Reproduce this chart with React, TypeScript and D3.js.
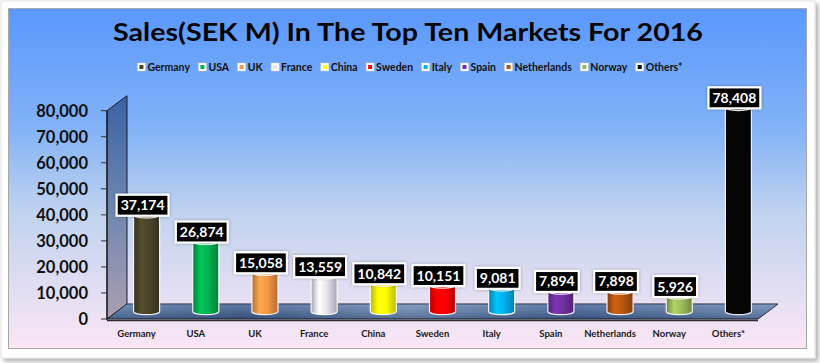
import React from "react";
import * as d3 from "d3";

const categories = ["Germany", "USA", "UK", "France", "China", "Sweden", "Italy", "Spain", "Netherlands", "Norway", "Others*"];
const values = [37174, 26874, 15058, 13559, 10842, 10151, 9081, 7894, 7898, 5926, 78408];
const colors = ["#4a4429", "#00b050", "#f79646", "#e8e4ee", "#ffff00", "#ff0000", "#00b0f0", "#7030a0", "#b8550f", "#9bbb59", "#050505"];
const yTicks = [0, 10000, 20000, 30000, 40000, 50000, 60000, 70000, 80000];
const title = "Sales(SEK M) In The Top Ten Markets For 2016";

const W = 820;
const H = 363;
const FONT = "Lato, 'Open Sans', sans-serif";

function textWidth(t: string, font: string): number {
  if (typeof document === "undefined") return t.length * 6;
  const c = document.createElement("canvas");
  const ctx = c.getContext("2d");
  if (!ctx) return t.length * 6;
  ctx.font = font;
  return ctx.measureText(t).width;
}

export default function App() {
  const x0 = 107, x1 = 758;
  const dx = 20, dy = -15;
  const x = d3.scaleBand<string>().domain(categories).range([x0, x1]).padding(0);
  const y = d3.scaleLinear().domain([0, 80000]).range([319, 110.7]);
  const fmt = d3.format(",");
  const bw = x.bandwidth();
  const r = bw * 0.22;
  const ry = 3.2;

  // legend layout
  const legFont = `bold 10.5px ${FONT}`;
  const widths = categories.map((c) => textWidth(c, legFont));
  const gap = 8.5;
  const itemW = widths.map((w) => 10 + w + gap);
  const total = d3.sum(itemW) - gap;
  let acc = 410 - total / 2;
  const legX = itemW.map((w) => {
    const v = acc;
    acc += w;
    return v;
  });

  const yTop = y(80000);
  const yBase = y(0);

  return (
    <div style={{ position: "absolute", left: 0, top: 0 }}>
      <svg width={W} height={H} style={{ display: "block" }}>
        <defs>
          <linearGradient id="bg" x1="0" y1="0" x2="0" y2="1">
            <stop offset="0" stopColor="#5a98fd" />
            <stop offset="0.35" stopColor="#82b2f7" />
            <stop offset="0.6" stopColor="#c0d3ef" />
            <stop offset="1" stopColor="#fbe6f5" />
          </linearGradient>
          <linearGradient id="wall" x1="0" y1="0" x2="0" y2="1">
            <stop offset="0" stopColor="#3a62a4" />
            <stop offset="0.5" stopColor="#6e86b0" />
            <stop offset="1" stopColor="#ab9fb2" />
          </linearGradient>
          <linearGradient id="floor" x1="0" y1="0" x2="1" y2="0">
            <stop offset="0" stopColor="#5a7bae" />
            <stop offset="0.2" stopColor="#3f5f92" />
            <stop offset="0.45" stopColor="#6f8cb8" />
            <stop offset="0.7" stopColor="#44659a" />
            <stop offset="1" stopColor="#6a88b6" />
          </linearGradient>
          <linearGradient id="floorV" x1="0" y1="0" x2="0" y2="1">
            <stop offset="0" stopColor="#ffffff" stopOpacity="0.15" />
            <stop offset="1" stopColor="#000000" stopOpacity="0.2" />
          </linearGradient>
          {colors.map((c, i) => {
            const base = d3.color(c)!;
            const dark = d3.color(c)!.darker(0.9).formatHex();
            const light = d3.color(c)!.brighter(0.35).formatHex();
            return (
              <linearGradient key={i} id={`cyl${i}`} x1="0" y1="0" x2="1" y2="0">
                <stop offset="0" stopColor={dark} />
                <stop offset="0.3" stopColor={light} />
                <stop offset="0.6" stopColor={base.formatHex()} />
                <stop offset="1" stopColor={dark} />
              </linearGradient>
            );
          })}
          <filter id="shadow" x="-30%" y="-30%" width="160%" height="160%">
            <feDropShadow dx="0" dy="0" stdDeviation="1.5" floodColor="#000" floodOpacity="0.35" />
          </filter>
          <filter id="frameShadow" x="-5%" y="-5%" width="110%" height="110%">
            <feDropShadow dx="3" dy="3" stdDeviation="2" floodColor="#000" floodOpacity="0.3" />
          </filter>
        </defs>

        {/* page frame */}
        <rect x={0} y={0} width={W} height={H} fill="#ffffff" />
        <rect x={1} y={1} width={814} height={357} fill="#ffffff" stroke="#e2e2e2" filter="url(#frameShadow)" />
        <rect x={8.5} y={8.5} width={798} height={340} fill="url(#bg)" stroke="#a8a8a8" strokeWidth={1} />

        {/* title */}
        <text x={408} y={41} textAnchor="middle" fontFamily={FONT} fontWeight={700} fontSize={25} fill="#050505" textLength={590} lengthAdjust="spacingAndGlyphs">
          {title}
        </text>

        {/* legend */}
        {categories.map((c, i) => (
          <g key={c} transform={`translate(${legX[i]},67)`}>
            <rect x={0} y={-4} width={8} height={8} fill="#ffffff" stroke="#d0d0d0" strokeWidth={0.5} />
            <rect x={2} y={-2} width={4} height={4} fill={colors[i]} />
            <text x={10} y={3.8} fontFamily={FONT} fontWeight={700} fontSize={10.5} fill="#111">
              {c}
            </text>
          </g>
        ))}

        {/* wall */}
        <polygon
          points={`${x0},${yBase} ${x0},${yTop} ${x0 + dx},${yTop + dy} ${x0 + dx},${yBase + dy}`}
          fill="url(#wall)"
          stroke="#1a1a2a"
          strokeWidth={1}
        />

        {/* floor */}
        <polygon
          points={`${x0},${yBase} ${x1},${yBase} ${x1 + dx},${yBase + dy} ${x0 + dx},${yBase + dy}`}
          fill="url(#floor)"
          stroke="#1a2030"
          strokeWidth={1}
        />
        <polygon
          points={`${x0},${yBase} ${x1},${yBase} ${x1 + dx},${yBase + dy} ${x0 + dx},${yBase + dy}`}
          fill="url(#floorV)"
        />
        <line x1={x0} x2={x1} y1={yBase + 1.5} y2={yBase + 1.5} stroke="#2a2a2a" strokeWidth={1.5} />

        {/* y axis */}
        <line x1={x0} x2={x0} y1={yTop} y2={yBase + 1} stroke="#1a1a1a" strokeWidth={1.2} />
        {yTicks.map((t) => (
          <g key={t}>
            <line x1={x0 - 6} x2={x0} y1={y(t)} y2={y(t)} stroke="#333" strokeWidth={1} />
            <text x={88} y={y(t)} dy="0.36em" textAnchor="end" fontFamily={FONT} fontWeight={700} fontSize={16.5} fill="#111">
              {fmt(t)}
            </text>
          </g>
        ))}

        {/* bars */}
        {categories.map((c, i) => {
          const cx = (x(c) ?? 0) + bw / 2 + dx / 2;
          const base = yBase + dy / 2;
          const top = y(values[i]) + dy / 2;
          const topColor = d3.color(colors[i])!.brighter(0.6).formatHex();
          return (
            <g key={c}>
              <path
                d={`M${cx - r},${top} L${cx - r},${base} A${r},${ry} 0 0 0 ${cx + r},${base} L${cx + r},${top} Z`}
                fill={`url(#cyl${i})`}
                stroke="#ffffff"
                strokeWidth={1.2}
                strokeOpacity={0.9}
              />
              <ellipse cx={cx} cy={top} rx={r} ry={ry} fill={topColor} stroke="#ffffff" strokeWidth={1.2} />
            </g>
          );
        })}

        {/* value labels */}
        {categories.map((c, i) => {
          const cx = (x(c) ?? 0) + bw / 2 + dx / 2 - 4;
          const top = y(values[i]) + dy / 2;
          const label = fmt(values[i]);
          const tw = textWidth(label, `bold 14px ${FONT}`);
          const bwid = tw + 8;
          const bh = 21;
          return (
            <g key={c}>
              <rect
                x={cx - bwid / 2}
                y={top + 1 - bh}
                width={bwid}
                height={bh}
                fill="#000"
                stroke="#ffffff"
                strokeWidth={2.2}
                filter="url(#shadow)"
              />
              <text x={cx} y={top + 1 - bh / 2} dy="0.36em" textAnchor="middle" fontFamily={FONT} fontWeight={700} fontSize={14} fill="#ffffff">
                {label}
              </text>
            </g>
          );
        })}

        {/* x labels */}
        {categories.map((c) => (
          <text key={c} x={(x(c) ?? 0) + bw / 2} y={337} textAnchor="middle" fontFamily={FONT} fontWeight={700} fontSize={9.5} fill="#1a1a1a">
            {c}
          </text>
        ))}
      </svg>
    </div>
  );
}
